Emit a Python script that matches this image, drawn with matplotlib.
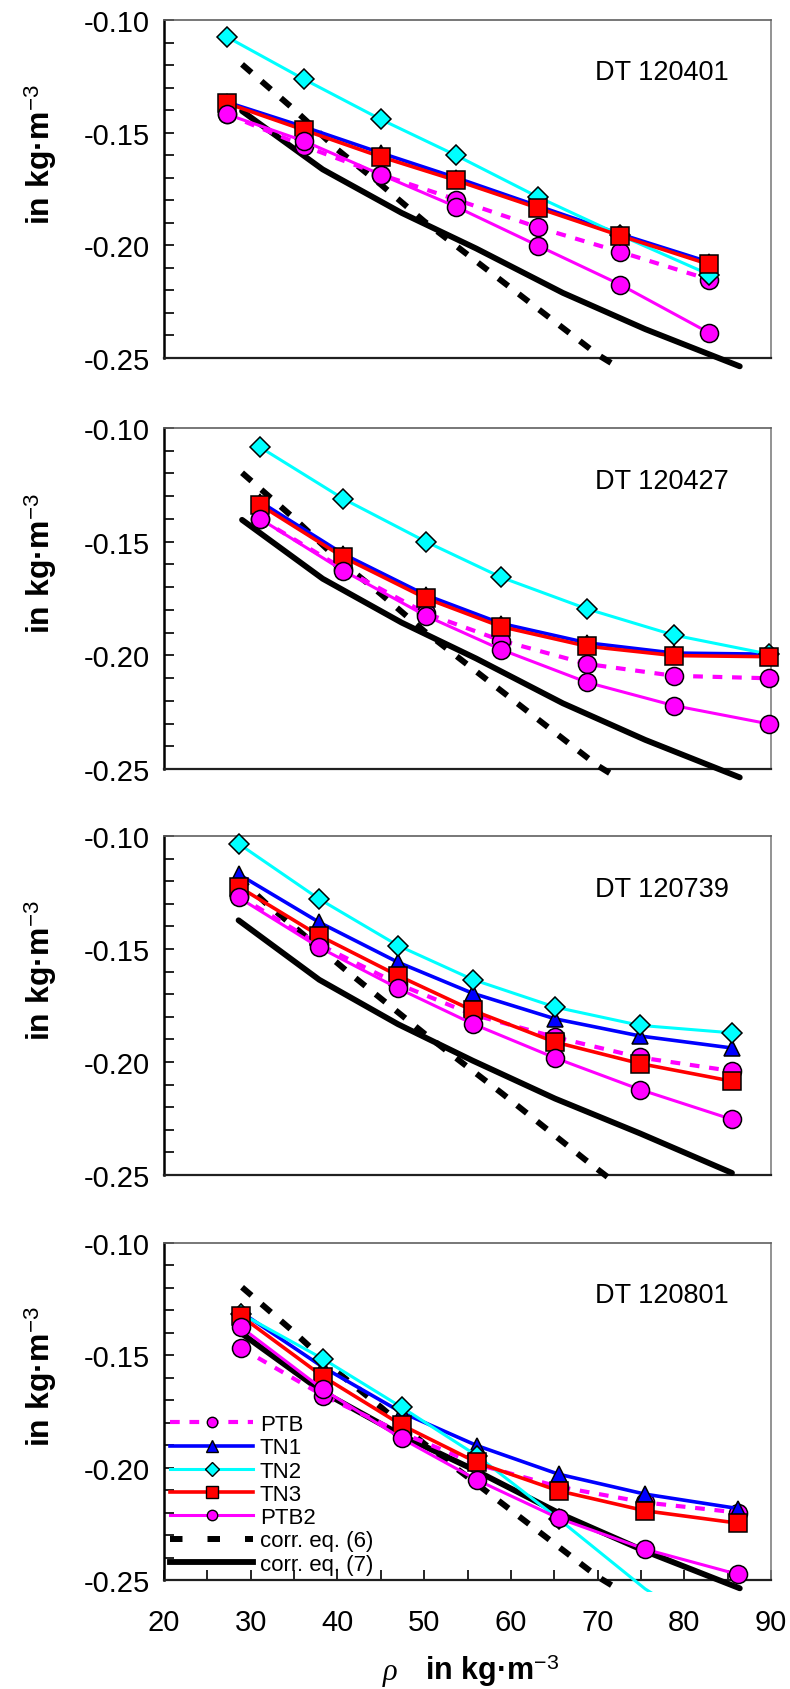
import numpy as np
import matplotlib
matplotlib.use("Agg")
import matplotlib.pyplot as plt
from matplotlib.patches import Rectangle
from matplotlib.lines import Line2D
from matplotlib.ticker import MultipleLocator, FormatStrFormatter

plt.rcParams['font.family'] = ['Liberation Sans', 'DejaVu Sans']
plt.rcParams['mathtext.fontset'] = 'custom'
plt.rcParams['mathtext.rm'] = 'Liberation Sans'
plt.rcParams['mathtext.it'] = 'Liberation Serif:italic'
plt.rcParams['mathtext.bf'] = 'Liberation Sans:bold'
plt.rcParams['axes.unicode_minus'] = False
plt.rcParams['lines.scale_dashes'] = False

# ---------------- data ----------------
panel_names = ["DT 120401", "DT 120427", "DT 120739", "DT 120801"]
series_labels = ["PTB", "TN1", "TN2", "TN3", "PTB2"]
corr_labels = ["corr. eq. (6)", "corr. eq. (7)"]

rho_1 = [27.3, 36.2, 45.0, 53.7, 63.1, 72.6, 82.9]
ptb_1 = [-0.1419, -0.1560, -0.1686, -0.1797, -0.1920, -0.2029, -0.2152]
tn1_1 = [-0.1365, -0.1475, -0.1590, -0.1700, -0.1825, -0.1950, -0.2075]
tn2_1 = [-0.1076, -0.1264, -0.1441, -0.1601, -0.1785, -0.1955, -0.2130]
tn3_1 = [-0.1370, -0.1489, -0.1607, -0.1712, -0.1834, -0.1957, -0.2085]
ptb2_1 = [-0.1419, -0.1538, -0.1686, -0.1829, -0.2001, -0.2174, -0.2389]

rho_2 = [31.1, 40.7, 50.2, 58.9, 68.8, 78.8, 89.8]
ptb_2 = [-0.1400, -0.1620, -0.1815, -0.1935, -0.2038, -0.2090, -0.2101]
tn1_2 = [-0.1325, -0.1555, -0.1735, -0.1860, -0.1945, -0.1990, -0.1995]
tn2_2 = [-0.1085, -0.1312, -0.1500, -0.1657, -0.1796, -0.1911, -0.1995]
tn3_2 = [-0.1339, -0.1569, -0.1749, -0.1874, -0.1960, -0.2001, -0.2006]
ptb2_2 = [-0.1400, -0.1628, -0.1826, -0.1975, -0.2119, -0.2221, -0.2302]

rho_3 = [28.6, 37.9, 47.0, 55.6, 65.1, 74.9, 85.5]
ptb_3 = [-0.1265, -0.1480, -0.1655, -0.1790, -0.1890, -0.1980, -0.2040]
tn1_3 = [-0.1169, -0.1382, -0.1559, -0.1696, -0.1809, -0.1885, -0.1938]
tn2_3 = [-0.1034, -0.1279, -0.1485, -0.1635, -0.1757, -0.1838, -0.1871]
tn3_3 = [-0.1224, -0.1441, -0.1618, -0.1772, -0.1912, -0.2007, -0.2085]
ptb2_3 = [-0.1272, -0.1493, -0.1674, -0.1831, -0.1982, -0.2122, -0.2254]

rho_4 = [28.9, 38.35, 47.4, 56.1, 65.5, 75.5, 86.2]
ptb_4 = [-0.1468, -0.1679, -0.1845, -0.1985, -0.2085, -0.2155, -0.2200]
tn1_4 = [-0.1308, -0.1553, -0.1754, -0.1902, -0.2029, -0.2118, -0.2182]
tn2_4 = [-0.1315, -0.1516, -0.1731, -0.1947, -0.2228, -0.2540, -0.2800]
tn3_4 = [-0.1326, -0.1595, -0.1810, -0.1977, -0.2103, -0.2192, -0.2247]
ptb2_4 = [-0.1375, -0.1652, -0.1870, -0.2055, -0.2225, -0.2363, -0.2475]

# correlation curves
corr6_x = [29.0, 35.0, 40.0, 45.0, 50.0, 55.0, 60.0, 65.0, 70.0, 72.5]
corr6_y = [-0.1197, -0.1397, -0.1575, -0.1730, -0.1893, -0.2041, -0.2189, -0.2337, -0.2485, -0.2544]
corr6_x_3 = [28.6, 31.65, 41.26, 50.28, 59.02, 68.63, 71.83]
corr6_y_3 = [-0.1185, -0.1294, -0.1603, -0.1882, -0.2140, -0.2434, -0.2529]

corr7_x = [29.0, 38.3, 47.4, 56.0, 66.0, 75.5, 86.4]
corr7_y = [-0.1404, -0.1663, -0.1856, -0.2014, -0.2211, -0.2372, -0.2537]
corr7_x_3 = [28.6, 37.9, 47.0, 55.6, 65.1, 74.9, 85.5]
corr7_y_3 = [-0.1373, -0.1636, -0.1833, -0.1994, -0.2162, -0.2316, -0.2491]

panels = [
    (rho_1, [ptb_1, tn1_1, tn2_1, tn3_1, ptb2_1], (corr6_x, corr6_y), (corr7_x, corr7_y)),
    (rho_2, [ptb_2, tn1_2, tn2_2, tn3_2, ptb2_2], (corr6_x, corr6_y), (corr7_x, corr7_y)),
    (rho_3, [ptb_3, tn1_3, tn2_3, tn3_3, ptb2_3], (corr6_x_3, corr6_y_3), (corr7_x_3, corr7_y_3)),
    (rho_4, [ptb_4, tn1_4, tn2_4, tn3_4, ptb2_4], (corr6_x, corr6_y), (corr7_x, corr7_y)),
]

# ---------------- styles ----------------
styles = [
    dict(color='#FF00FF', ls=(0, (7, 7)), lw=3.0, marker='o', ms=13, mfc='#FF00FF'),
    dict(color='#0000FF', ls='-', lw=2.6, marker='^', ms=11.5, mfc='#0000FF'),
    dict(color='#00FFFF', ls='-', lw=2.2, marker='D', ms=10.0, mfc='#00FFFF'),
    dict(color='#FF0000', ls='-', lw=2.6, marker='s', ms=12.5, mfc='#FF0000'),
    dict(color='#FF00FF', ls='-', lw=2.2, marker='o', ms=13, mfc='#FF00FF'),
]
legend_ms = [7.5, 8.5, 7.5, 8.5, 7.5]

W, H = 790, 1690
fig = plt.figure(figsize=(W / 100, H / 100), dpi=100)

boxes = [(21, 359), (429, 770), (837, 1176), (1244, 1581)]
left_px, right_px = 164, 771

ylo_clip = -0.2555

for i, (rho, series, c6, c7) in enumerate(panels):
    top, bot = boxes[i]
    ax = fig.add_axes([left_px / W, 1 - bot / H, (right_px - left_px) / W, (bot - top) / H])
    ax.set_xlim(20, 90)
    ax.set_ylim(-0.25, -0.10)
    clip = Rectangle((15, ylo_clip), 80, 0.2, transform=ax.transData, visible=False)
    ax.add_patch(clip)

    l6, = ax.plot(c6[0], c6[1], color='black', lw=4.3, ls=(0, (9, 9.5)),
                  dash_capstyle='butt', zorder=3)
    l7, = ax.plot(c7[0], c7[1], color='black', lw=4.2, ls='-',
                  solid_capstyle='round', zorder=3)
    for ln in (l6, l7):
        ln.set_clip_path(clip)

    for st, y in zip(styles, series):
        y = np.asarray(y, dtype=float)
        ln, = ax.plot(rho, y, color=st['color'], ls=st['ls'], lw=st['lw'], zorder=4)
        ln.set_clip_path(clip)
        ym = np.ma.masked_less(y, -0.25)
        mk, = ax.plot(rho, ym, ls='none', marker=st['marker'], ms=st['ms'],
                      mfc=st['mfc'], mec='black', mew=1.1, zorder=4)
        mk.set_clip_path(clip)

    ax.text(0.93, 0.845, panel_names[i], transform=ax.transAxes, ha='right', va='center',
            fontsize=19.5)

    ax.spines['left'].set_color('black')
    ax.spines['left'].set_linewidth(1.8)
    ax.spines['bottom'].set_color('#202020')
    ax.spines['bottom'].set_linewidth(1.6)
    ax.spines['top'].set_color('#606060')
    ax.spines['top'].set_linewidth(1.2)
    ax.spines['right'].set_color('#808080')
    ax.spines['right'].set_linewidth(1.2)

    ax.yaxis.set_major_locator(MultipleLocator(0.05))
    ax.yaxis.set_minor_locator(MultipleLocator(0.01))
    ax.yaxis.set_major_formatter(FormatStrFormatter('%.2f'))
    ax.tick_params(axis='y', which='both', direction='in', length=7, width=1.2,
                   left=True, right=False, labelsize=21, pad=10)

    if i < 3:
        ax.tick_params(axis='x', which='both', bottom=False, top=False, labelbottom=False)
    else:
        ax.xaxis.set_major_locator(MultipleLocator(10))
        ax.xaxis.set_minor_locator(MultipleLocator(5))
        ax.tick_params(axis='x', which='both', direction='in', length=7, width=1.2,
                       bottom=True, top=False, labelsize=21, pad=20)

    ax.text(-0.204, 0.605, r"in kg·m$^{-3}$", transform=ax.transAxes, rotation=90,
            ha='center', va='center', fontsize=23, fontweight='bold')

    if i == 3:
        handles = []
        for st, ms in zip(styles, legend_ms):
            handles.append(Line2D([], [], color=st['color'], ls=st['ls'], lw=st['lw'],
                                  marker=st['marker'], ms=ms, mfc=st['mfc'], mec='black',
                                  mew=1.0))
        handles.append(Line2D([], [], color='black', lw=4.3, ls=(0, (9, 18)),
                              dash_capstyle='butt'))
        handles.append(Line2D([], [], color='black', lw=4.2, ls='-'))
        leg = ax.legend(handles, series_labels + corr_labels, loc='upper left',
                        bbox_to_anchor=(0.01, 0.492), frameon=False, fontsize=16,
                        handlelength=3.75, handletextpad=0.28, labelspacing=0.1,
                        borderpad=0, borderaxespad=0, numpoints=1)
        leg.set_zorder(6)

# x label
fig.text(390 / W, 1 - 1680 / H, "ρ", fontsize=22, family=['Liberation Serif', 'DejaVu Serif'],
         style='italic', ha='center', va='baseline')
fig.text(425 / W, 1 - 1680 / H, r"in kg·m$^{-3}$", fontsize=22, fontweight='bold',
         ha='left', va='baseline')

fig.savefig("out.png", dpi=100)
